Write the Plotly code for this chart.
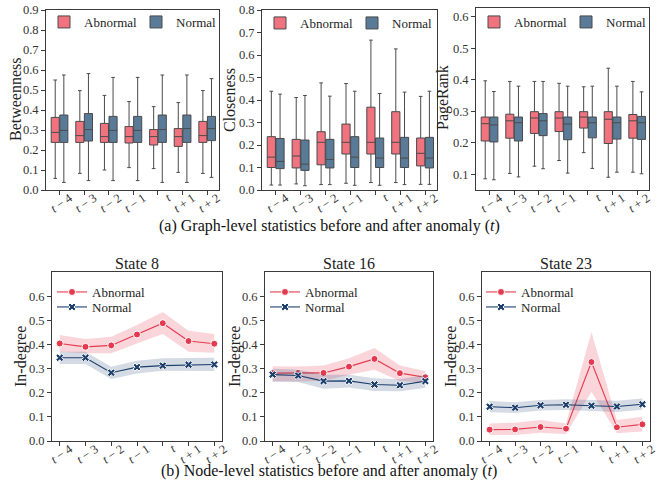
import plotly.graph_objects as go

W, H = 658, 485
FONT = "Liberation Serif"

ticks = ["<i>t</i> − 4", "<i>t</i> − 3", "<i>t</i> − 2", "<i>t</i> − 1", "<i>t</i>", "<i>t</i> + 1", "<i>t</i> + 2"]
pos = list(range(7))

# ---- Graph-level box statistics: lower whisker, q1, median, q3, upper whisker ----
btw_ab_lo = [0.058, 0.083, 0.100, 0.112, 0.107, 0.088, 0.083]
btw_ab_q1 = [0.238, 0.238, 0.238, 0.235, 0.225, 0.218, 0.238]
btw_ab_md = [0.288, 0.272, 0.267, 0.267, 0.267, 0.267, 0.272]
btw_ab_q3 = [0.363, 0.343, 0.333, 0.317, 0.302, 0.307, 0.343]
btw_ab_hi = [0.550, 0.497, 0.473, 0.442, 0.417, 0.437, 0.497]
btw_no_lo = [0.038, 0.047, 0.047, 0.047, 0.038, 0.038, 0.063]
btw_no_q1 = [0.238, 0.245, 0.238, 0.238, 0.238, 0.238, 0.247]
btw_no_md = [0.298, 0.302, 0.298, 0.298, 0.302, 0.307, 0.307]
btw_no_q3 = [0.375, 0.382, 0.368, 0.368, 0.375, 0.375, 0.368]
btw_no_hi = [0.575, 0.582, 0.563, 0.563, 0.575, 0.575, 0.557]

clo_ab_lo = [0.022, 0.027, 0.024, 0.030, 0.033, 0.033, 0.025]
clo_ab_q1 = [0.100, 0.098, 0.112, 0.160, 0.160, 0.160, 0.107]
clo_ab_md = [0.146, 0.151, 0.212, 0.212, 0.212, 0.212, 0.163]
clo_ab_q3 = [0.237, 0.225, 0.259, 0.293, 0.368, 0.348, 0.231]
clo_ab_hi = [0.439, 0.411, 0.476, 0.473, 0.666, 0.627, 0.416]
clo_no_lo = [0.022, 0.019, 0.024, 0.021, 0.021, 0.024, 0.025]
clo_no_q1 = [0.095, 0.087, 0.098, 0.100, 0.100, 0.100, 0.098]
clo_no_md = [0.127, 0.115, 0.136, 0.146, 0.142, 0.142, 0.142]
clo_no_q3 = [0.229, 0.222, 0.225, 0.237, 0.231, 0.234, 0.234]
clo_no_hi = [0.426, 0.420, 0.417, 0.439, 0.429, 0.435, 0.439]

pr_ab_lo = [0.086, 0.103, 0.126, 0.144, 0.169, 0.091, 0.107]
pr_ab_q1 = [0.206, 0.215, 0.230, 0.236, 0.247, 0.198, 0.215]
pr_ab_md = [0.261, 0.270, 0.279, 0.279, 0.282, 0.275, 0.270]
pr_ab_q3 = [0.282, 0.291, 0.299, 0.299, 0.299, 0.299, 0.290]
pr_ab_hi = [0.397, 0.395, 0.395, 0.389, 0.378, 0.437, 0.395]
pr_no_lo = [0.083, 0.092, 0.118, 0.104, 0.119, 0.107, 0.102]
pr_no_q1 = [0.203, 0.206, 0.223, 0.210, 0.216, 0.212, 0.211]
pr_no_md = [0.257, 0.264, 0.270, 0.260, 0.264, 0.264, 0.264]
pr_no_q3 = [0.282, 0.282, 0.293, 0.282, 0.282, 0.282, 0.284]
pr_no_hi = [0.363, 0.380, 0.395, 0.380, 0.380, 0.380, 0.362]

# ---- Node-level in-degree: mean with confidence band ----
s8_ab = [0.404, 0.390, 0.396, 0.441, 0.488, 0.414, 0.403]
s8_ab_hi = [0.439, 0.422, 0.432, 0.480, 0.534, 0.457, 0.443]
s8_ab_lo = [0.370, 0.363, 0.363, 0.404, 0.443, 0.370, 0.366]
s8_no = [0.345, 0.345, 0.283, 0.306, 0.312, 0.316, 0.317]
s8_no_hi = [0.370, 0.370, 0.308, 0.332, 0.343, 0.345, 0.345]
s8_no_lo = [0.319, 0.319, 0.257, 0.280, 0.291, 0.291, 0.290]

s16_ab = [0.281, 0.282, 0.282, 0.308, 0.340, 0.281, 0.264]
s16_ab_hi = [0.310, 0.309, 0.313, 0.343, 0.385, 0.313, 0.290]
s16_ab_lo = [0.246, 0.246, 0.249, 0.274, 0.295, 0.249, 0.242]
s16_no = [0.275, 0.271, 0.248, 0.249, 0.234, 0.231, 0.248]
s16_no_hi = [0.299, 0.295, 0.274, 0.274, 0.260, 0.256, 0.274]
s16_no_lo = [0.246, 0.244, 0.216, 0.222, 0.207, 0.206, 0.221]

s23_ab = [0.047, 0.048, 0.058, 0.051, 0.327, 0.057, 0.069]
s23_ab_hi = [0.073, 0.076, 0.087, 0.073, 0.451, 0.087, 0.100]
s23_ab_lo = [0.025, 0.025, 0.034, 0.028, 0.204, 0.032, 0.039]
s23_no = [0.142, 0.138, 0.148, 0.150, 0.146, 0.143, 0.152]
s23_no_hi = [0.166, 0.160, 0.170, 0.173, 0.170, 0.167, 0.176]
s23_no_lo = [0.119, 0.116, 0.126, 0.128, 0.123, 0.120, 0.129]

ab_fill = "#f0737f"
no_fill = "#5a7b98"
ab_line = "#e43a4f"
no_line = "#1c3e6c"

fig = go.Figure()

def xd(a, b):
    return [a / W, b / W]

def yd(top, bot):
    return [1 - bot / H, 1 - top / H]

def px(x):
    return x / W

def py(y):
    return 1 - y / H

top_panels = [
    ("x", "y", xd(46, 219), yd(10, 190), [0, 0.9], "Betweenness", (16, 99), (84, 176), 22,
     (btw_ab_lo, btw_ab_q1, btw_ab_md, btw_ab_q3, btw_ab_hi),
     (btw_no_lo, btw_no_q1, btw_no_md, btw_no_q3, btw_no_hi)),
    ("x2", "y2", xd(262, 437), yd(10, 190), [0, 0.8], "Closeness", (230, 100), (300, 392), 23,
     (clo_ab_lo, clo_ab_q1, clo_ab_md, clo_ab_q3, clo_ab_hi),
     (clo_no_lo, clo_no_q1, clo_no_md, clo_no_q3, clo_no_hi)),
    ("x3", "y3", xd(476, 649), yd(8, 190), [0.0505, 0.628], "PageRank", (443, 98), (514, 606), 22,
     (pr_ab_lo, pr_ab_q1, pr_ab_md, pr_ab_q3, pr_ab_hi),
     (pr_no_lo, pr_no_q1, pr_no_md, pr_no_q3, pr_no_hi)),
]

bottom_panels = [
    ("x4", "y4", xd(52, 222), yd(272, 441), "State 8", (21, 357), 92,
     (s8_ab, s8_ab_hi, s8_ab_lo), (s8_no, s8_no_hi, s8_no_lo)),
    ("x5", "y5", xd(265, 433), yd(272, 441), "State 16", (235, 357), 305,
     (s16_ab, s16_ab_hi, s16_ab_lo), (s16_no, s16_no_hi, s16_no_lo)),
    ("x6", "y6", xd(482, 650), yd(272, 441), "State 23", (451, 357), 521,
     (s23_ab, s23_ab_hi, s23_ab_lo), (s23_no, s23_no_hi, s23_no_lo)),
]

axis_common = dict(
    showline=True, linecolor="#3a3a3a", linewidth=1, mirror=True,
    ticks="outside", ticklen=4, tickcolor="#3a3a3a", showgrid=False, zeroline=False,
    tickfont=dict(family=FONT, size=12.5, color="#333"), automargin=False,
)
xtick_style = dict(tickangle=-35, ticklabelshift=10, ticklabelstandoff=-9)

layout = dict(
    width=W, height=H, margin=dict(l=0, r=0, t=0, b=0, pad=0, autoexpand=False),
    paper_bgcolor="white", plot_bgcolor="white",
    font=dict(family=FONT, color="#222"),
    boxmode="group", boxgap=0.3, boxgroupgap=0.06,
    showlegend=True,
)

annotations = []
LEG_OFF = 40
leg_idx = [0]

def new_legend(x_text, y_center):
    leg_idx[0] += 1
    name = "legend" if leg_idx[0] == 1 else f"legend{leg_idx[0]}"
    layout[name] = dict(
        orientation="v", x=px(x_text - LEG_OFF), y=py(y_center), xanchor="left", yanchor="middle",
        bgcolor="rgba(255,255,255,0)", font=dict(family=FONT, size=13, color="#222"),
        itemwidth=30,
    )
    return name

def ytitle_ann(text, xy):
    annotations.append(dict(
        text=text, x=px(xy[0]), y=py(xy[1]), xref="paper", yref="paper",
        xanchor="center", yanchor="middle", textangle=-90, showarrow=False,
        font=dict(family=FONT, size=16, color="#222"),
    ))

for i, (xa, ya, xdom, ydom, yr, ytitle, txy, legx, legy, ab, no) in enumerate(top_panels):
    for k, (name, stats, col) in enumerate((("Abnormal", ab, ab_fill), ("Normal", no, no_fill))):
        lo, q1, md, q3, hi = stats
        leg = new_legend(legx[k], legy)
        fig.add_trace(go.Box(
            x=pos, q1=q1, median=md, q3=q3, lowerfence=lo, upperfence=hi,
            name=name, fillcolor=col, line=dict(color="#4a4a4a", width=1),
            whiskerwidth=0.45, boxpoints=False, xaxis=xa, yaxis=ya,
            legend=leg, showlegend=True, offsetgroup=name,
        ))
    xk = "xaxis" if i == 0 else f"xaxis{i + 1}"
    yk = "yaxis" if i == 0 else f"yaxis{i + 1}"
    layout[xk] = dict(axis_common, domain=xdom, anchor=ya, range=[-0.55, 6.48],
                      tickvals=pos, ticktext=ticks, **xtick_style)
    layout[yk] = dict(axis_common, domain=ydom, anchor=xa, range=yr, dtick=0.1,
                      tickformat=".1f")
    ytitle_ann(ytitle, txy)

for j, (xa, ya, xdom, ydom, title, txy, legx, ab, no) in enumerate(bottom_panels):
    for k, (name, (m, hi, lo), lcol, bcol, sym) in enumerate((
        ("Abnormal", ab, ab_line, "rgba(232,70,90,0.22)", "circle"),
        ("Normal", no, no_line, "rgba(40,75,120,0.2)", "x"),
    )):
        leg = new_legend(legx, 292 + 15 * k)
        fig.add_trace(go.Scatter(
            x=pos + pos[::-1], y=hi + lo[::-1], fill="toself", fillcolor=bcol,
            line=dict(width=0), mode="lines", hoverinfo="skip", showlegend=False,
            xaxis=xa, yaxis=ya, legend=leg,
        ))
        fig.add_trace(go.Scatter(
            x=pos, y=m, mode="lines+markers", name=name,
            line=dict(color=lcol, width=1.1),
            marker=dict(symbol=sym, size=7, color=lcol, line=dict(color="white", width=1)),
            xaxis=xa, yaxis=ya, legend=leg,
        ))
    layout[f"xaxis{j + 4}"] = dict(axis_common, domain=xdom, anchor=ya, range=[-0.3, 6.3],
                                   tickvals=pos, ticktext=ticks, **xtick_style)
    layout[f"yaxis{j + 4}"] = dict(axis_common, domain=ydom, anchor=xa, range=[0, 0.7],
                                   tickvals=[0, 0.1, 0.2, 0.3, 0.4, 0.5, 0.6], tickformat=".1f")
    ytitle_ann("In-degree", txy)
    annotations.append(dict(
        text=title, x=(xdom[0] + xdom[1]) / 2, y=py(263), xref="paper", yref="paper",
        xanchor="center", yanchor="middle", showarrow=False,
        font=dict(family=FONT, size=16, color="#222"),
    ))

annotations.append(dict(
    text="(a) Graph-level statistics before and after anomaly (<i>t</i>)",
    x=0.5, y=py(226), xref="paper", yref="paper", xanchor="center", yanchor="middle",
    showarrow=False, font=dict(family=FONT, size=16, color="#111"),
))
annotations.append(dict(
    text="(b) Node-level statistics before and after anomaly (<i>t</i>)",
    x=0.5, y=py(471), xref="paper", yref="paper", xanchor="center", yanchor="middle",
    showarrow=False, font=dict(family=FONT, size=16, color="#111"),
))
layout["annotations"] = annotations

fig.update_layout(**layout)
fig.write_html("out.html", config={"displayModeBar": False},
               post_script="document.body.style.margin='0';")
